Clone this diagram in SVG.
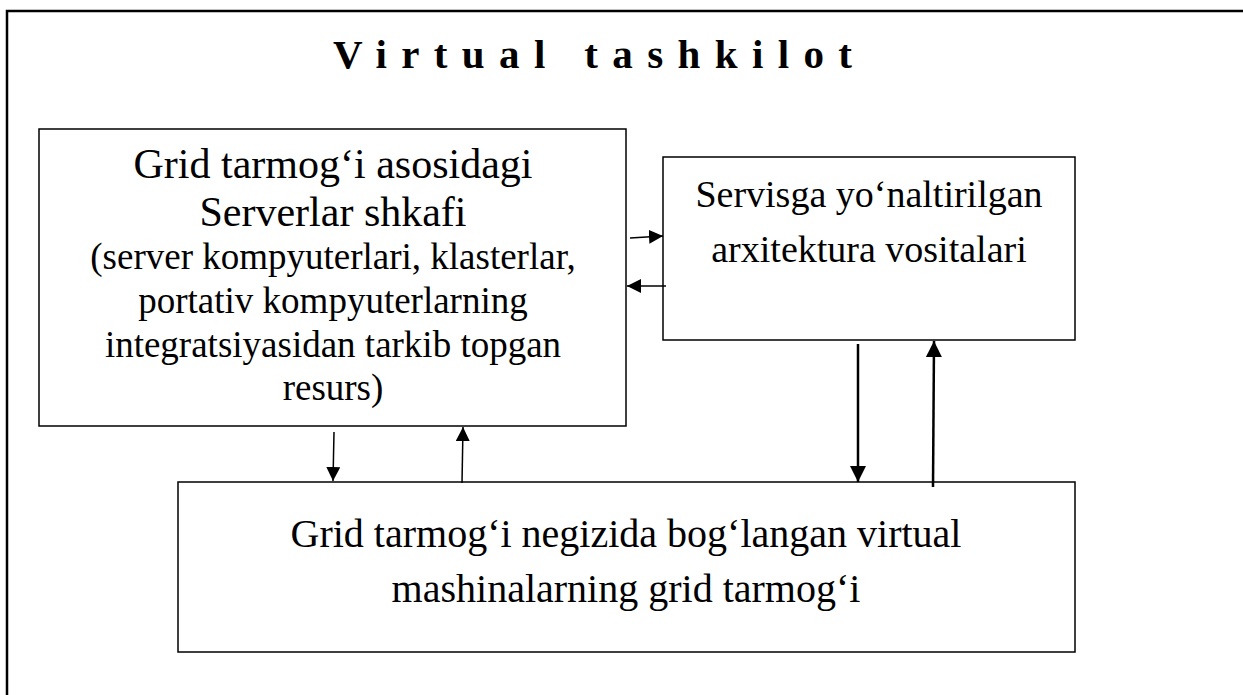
<svg xmlns="http://www.w3.org/2000/svg" width="1243" height="695" viewBox="0 0 1243 695">
<style>
.box{fill:#fff;stroke:#000;stroke-width:1.5}
.t{font-family:"Liberation Serif","Times New Roman",serif;fill:#000;text-anchor:middle}
.c{stroke:#000;stroke-width:1.5;fill:none}
.c2{stroke:#000;stroke-width:2.5;fill:none}
</style>
<defs>
<marker id="ah" viewBox="0 0 10 10" refX="10" refY="5" markerWidth="14" markerHeight="14" markerUnits="userSpaceOnUse" orient="auto"><path d="M0,0 L10,5 L0,10 z" fill="#000"/></marker>
<marker id="ah2" viewBox="0 0 10 10" refX="10" refY="5" markerWidth="16" markerHeight="16" markerUnits="userSpaceOnUse" orient="auto"><path d="M0,0 L10,5 L0,10 z" fill="#000"/></marker>
</defs>
<rect width="1243" height="695" fill="#fff"/>
<path d="M7,700 L7,11 L1250,11" fill="none" stroke="#000" stroke-width="2.5"/>
<text x="333" y="68" font-family="Liberation Serif, Times New Roman, serif" font-size="41" font-weight="bold" textLength="519" lengthAdjust="spacing">Virtual tashkilot</text>
<g id="node-servers">
<rect class="box" x="39" y="129" width="587" height="297"/>
<text class="t" font-size="42" x="333" y="178">Grid tarmog‘i asosidagi</text>
<text class="t" font-size="42" x="333" y="226">Serverlar shkafi</text>
<text class="t" font-size="37" x="333" y="269">(server kompyuterlari, klasterlar,</text>
<text class="t" font-size="37" x="333" y="313">portativ kompyuterlarning</text>
<text class="t" font-size="37" x="333" y="357">integratsiyasidan tarkib topgan</text>
<text class="t" font-size="37" x="333" y="400">resurs)</text>
</g>
<g id="node-soa">
<rect class="box" x="663" y="157" width="412" height="183"/>
<text class="t" font-size="38" x="869" y="207">Servisga yo‘naltirilgan</text>
<text class="t" font-size="38" x="869" y="262">arxitektura vositalari</text>
</g>
<g id="node-vm">
<rect class="box" x="178" y="482" width="897" height="170"/>
<text class="t" font-size="40" x="626" y="547">Grid tarmog‘i negizida bog‘langan virtual</text>
<text class="t" font-size="40" x="626" y="602">mashinalarning grid tarmog‘i</text>
</g>
<g id="connectors">
<line class="c" x1="630" y1="238" x2="663" y2="236" marker-end="url(#ah)"/>
<line class="c" x1="666" y1="286" x2="627" y2="286" marker-end="url(#ah)"/>
<line class="c" x1="334" y1="432" x2="333" y2="481" marker-end="url(#ah)"/>
<line class="c" x1="462" y1="483" x2="463" y2="427" marker-end="url(#ah)"/>
<line class="c2" x1="858" y1="344" x2="858" y2="482" marker-end="url(#ah2)"/>
<line class="c2" x1="933" y1="487" x2="934" y2="341" marker-end="url(#ah2)"/>
</g>
</svg>
